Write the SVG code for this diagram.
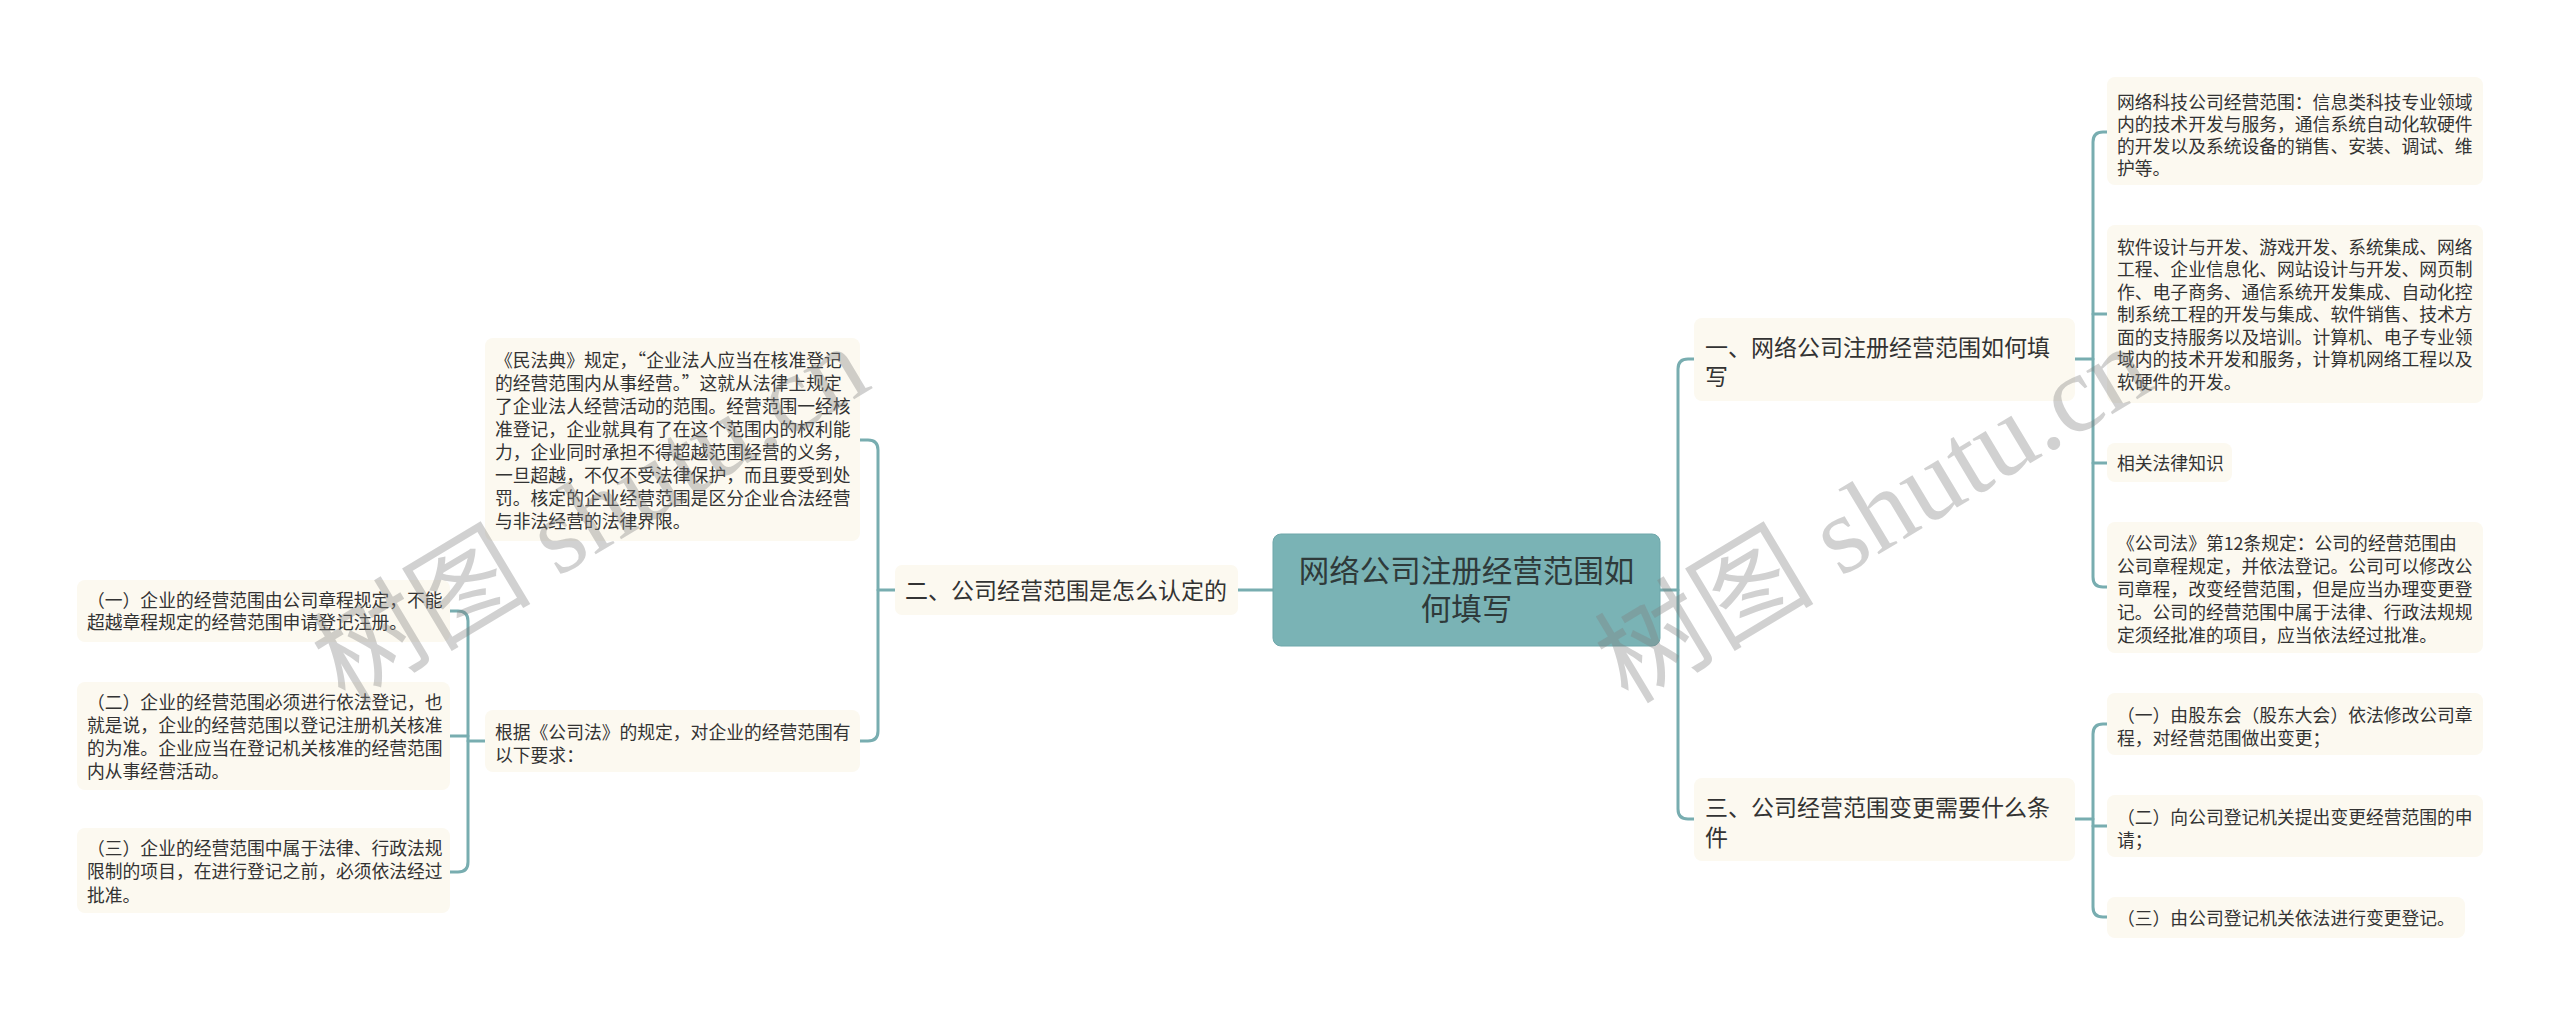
<svg xmlns="http://www.w3.org/2000/svg" width="2560" height="1014" viewBox="0 0 2560 1014">
<style>
.bg{fill:#ffffff}
.leaf{fill:#fcf9f0}
.lt{font-family:"Noto Sans CJK SC","Noto Sans",sans-serif;font-size:17.8px;fill:#333333}
.l1t{font-family:"Noto Sans CJK SC","Noto Sans",sans-serif;font-size:23px;fill:#333333}
.ct{font-family:"Noto Sans CJK SC","Noto Sans",sans-serif;font-size:30.5px;fill:#2f3a3a}
.conn{fill:none;stroke:#78adb0;stroke-width:3;stroke-linecap:round}
.wm{font-family:"Liberation Serif","Noto Sans CJK SC",serif;font-size:110px;fill:#808080;fill-opacity:0.36}
</style>
<rect class="bg" x="0" y="0" width="2560" height="1014"/>

<g id="connectors">
<path class="conn" d="M1238,590 H1273"/>
<path class="conn" d="M878,590 H895"/>
<path class="conn" d="M860,440 H868 Q878,440 878,450 V731 Q878,741 868,741 H860"/>
<path class="conn" d="M468,741 H485"/>
<path class="conn" d="M450,611 H458 Q468,611 468,621 V862 Q468,872 458,872 H450"/>
<path class="conn" d="M450,736 H468"/>
<path class="conn" d="M1660,590 H1678"/>
<path class="conn" d="M1694,359 H1688 Q1678,359 1678,369 V809 Q1678,819 1688,819 H1694"/>
<path class="conn" d="M2075,359 H2093"/>
<path class="conn" d="M2107,132 H2103 Q2093,132 2093,142 V577 Q2093,587 2103,587 H2107"/>
<path class="conn" d="M2093,314 H2107"/>
<path class="conn" d="M2093,463 H2107"/>
<path class="conn" d="M2075,819 H2093"/>
<path class="conn" d="M2107,724 H2103 Q2093,724 2093,734 V907 Q2093,917 2103,917 H2107"/>
<path class="conn" d="M2093,826 H2107"/>
</g>

<g id="root">
<rect x="1273" y="534" width="387" height="112" rx="8" fill="#7ab3b5" stroke="#6fa7aa" stroke-width="1"/>
<text class="ct" text-anchor="middle"><tspan x="1466.5" y="582">网络公司注册经营范围如</tspan><tspan x="1466.5" y="620">何填写</tspan></text>
</g>

<g id="b2">
<rect class="leaf" x="895" y="565" width="343" height="50" rx="7"/>
<text class="l1t" x="905" y="599">二、公司经营范围是怎么认定的</text>
</g>

<g id="b2c1">
<rect class="leaf" x="485" y="338" width="375" height="203" rx="8"/>
<text class="lt"><tspan x="495" y="366.5">《民法典》规定，“企业法人应当在核准登记</tspan><tspan x="495" dy="23.1">的经营范围内从事经营。”这就从法律上规定</tspan><tspan x="495" dy="23.1">了企业法人经营活动的范围。经营范围一经核</tspan><tspan x="495" dy="23.1">准登记，企业就具有了在这个范围内的权利能</tspan><tspan x="495" dy="23.1">力，企业同时承担不得超越范围经营的义务，</tspan><tspan x="495" dy="23.1">一旦超越，不仅不受法律保护，而且要受到处</tspan><tspan x="495" dy="23.1">罚。核定的企业经营范围是区分企业合法经营</tspan><tspan x="495" dy="23.1">与非法经营的法律界限。</tspan></text>
</g>

<g id="b2c2">
<rect class="leaf" x="485" y="710" width="375" height="62" rx="8"/>
<text class="lt"><tspan x="495" y="738.5">根据《公司法》的规定，对企业的经营范围有</tspan><tspan x="495" dy="23">以下要求：</tspan></text>
</g>

<g id="b2c2a">
<rect class="leaf" x="77" y="580" width="373" height="62" rx="8"/>
<text class="lt"><tspan x="87" y="606.5">（一）企业的经营范围由公司章程规定，不能</tspan><tspan x="87" dy="22.5">超越章程规定的经营范围申请登记注册。</tspan></text>
</g>

<g id="b2c2b">
<rect class="leaf" x="77" y="682" width="373" height="108" rx="8"/>
<text class="lt"><tspan x="87" y="708.5">（二）企业的经营范围必须进行依法登记，也</tspan><tspan x="87" dy="23.3">就是说，企业的经营范围以登记注册机关核准</tspan><tspan x="87" dy="23.3">的为准。企业应当在登记机关核准的经营范围</tspan><tspan x="87" dy="23.3">内从事经营活动。</tspan></text>
</g>

<g id="b2c2c">
<rect class="leaf" x="77" y="828" width="373" height="85" rx="8"/>
<text class="lt"><tspan x="87" y="854.5">（三）企业的经营范围中属于法律、行政法规</tspan><tspan x="87" dy="23.5">限制的项目，在进行登记之前，必须依法经过</tspan><tspan x="87" dy="23.5">批准。</tspan></text>
</g>

<g id="b1">
<rect class="leaf" x="1694" y="318" width="381" height="83" rx="8"/>
<text class="l1t"><tspan x="1705" y="356">一、网络公司注册经营范围如何填</tspan><tspan x="1705" y="385">写</tspan></text>
</g>

<g id="b3">
<rect class="leaf" x="1694" y="778" width="381" height="83" rx="8"/>
<text class="l1t"><tspan x="1705" y="816">三、公司经营范围变更需要什么条</tspan><tspan x="1705" y="846">件</tspan></text>
</g>

<g id="b1c1">
<rect class="leaf" x="2107" y="77" width="376" height="108" rx="8"/>
<text class="lt"><tspan x="2117" y="108.5">网络科技公司经营范围：信息类科技专业领域</tspan><tspan x="2117" dy="22.3">内的技术开发与服务，通信系统自动化软硬件</tspan><tspan x="2117" dy="22.3">的开发以及系统设备的销售、安装、调试、维</tspan><tspan x="2117" dy="22.3">护等。</tspan></text>
</g>

<g id="b1c2">
<rect class="leaf" x="2107" y="225" width="376" height="178" rx="8"/>
<text class="lt"><tspan x="2117" y="253.5">软件设计与开发、游戏开发、系统集成、网络</tspan><tspan x="2117" dy="22.5">工程、企业信息化、网站设计与开发、网页制</tspan><tspan x="2117" dy="22.5">作、电子商务、通信系统开发集成、自动化控</tspan><tspan x="2117" dy="22.5">制系统工程的开发与集成、软件销售、技术方</tspan><tspan x="2117" dy="22.5">面的支持服务以及培训。计算机、电子专业领</tspan><tspan x="2117" dy="22.5">域内的技术开发和服务，计算机网络工程以及</tspan><tspan x="2117" dy="22.5">软硬件的开发。</tspan></text>
</g>

<g id="b1c3">
<rect class="leaf" x="2107" y="443" width="125" height="39" rx="8"/>
<text class="lt" x="2117" y="469.5">相关法律知识</text>
</g>

<g id="b1c4">
<rect class="leaf" x="2107" y="522" width="376" height="131" rx="8"/>
<text class="lt"><tspan x="2117" y="549.5">《公司法》第12条规定：公司的经营范围由</tspan><tspan x="2117" dy="23">公司章程规定，并依法登记。公司可以修改公</tspan><tspan x="2117" dy="23">司章程，改变经营范围，但是应当办理变更登</tspan><tspan x="2117" dy="23">记。公司的经营范围中属于法律、行政法规规</tspan><tspan x="2117" dy="23">定须经批准的项目，应当依法经过批准。</tspan></text>
</g>

<g id="b3c1">
<rect class="leaf" x="2107" y="693" width="376" height="62" rx="8"/>
<text class="lt"><tspan x="2117" y="721.5">（一）由股东会（股东大会）依法修改公司章</tspan><tspan x="2117" dy="23">程，对经营范围做出变更；</tspan></text>
</g>

<g id="b3c2">
<rect class="leaf" x="2107" y="795" width="376" height="62" rx="8"/>
<text class="lt"><tspan x="2117" y="823.5">（二）向公司登记机关提出变更经营范围的申</tspan><tspan x="2117" dy="23">请；</tspan></text>
</g>

<g id="b3c3">
<rect class="leaf" x="2107" y="897" width="358" height="41" rx="8"/>
<text class="lt" x="2117" y="924.5">（三）由公司登记机关依法进行变更登记。</text>
</g>

<g id="watermarks">
<text class="wm" transform="translate(345,705) rotate(-31)">树图 shutu.cn</text>
<text class="wm" transform="translate(1628,705) rotate(-31)">树图 shutu.cn</text>
</g>
</svg>
